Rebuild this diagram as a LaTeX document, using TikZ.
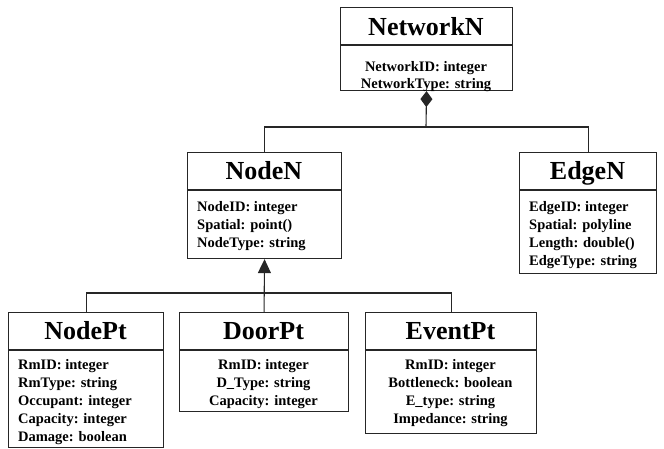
\documentclass[tikz,border=0pt]{standalone}
\usepackage{fontspec}
\setmainfont{Liberation Serif}
\usetikzlibrary{arrows.meta}
\tikzset{
  cls/.style={draw=black!85, line width=1.1pt, rectangle, anchor=north west, inner sep=0pt},
  divl/.style={draw=black!85, line width=1.1pt},
  ttl/.style={font=\fontsize{26}{26}\selectfont\bfseries, anchor=base, inner sep=0pt},
  attrl/.style={font=\fontsize{14.5}{18}\selectfont\bfseries, anchor=base west, inner sep=0pt},
  attrc/.style={font=\fontsize{14.5}{18}\selectfont\bfseries, anchor=base, inner sep=0pt},
  conn/.style={draw=black!85, line width=1.1pt},
}
\begin{document}
\begin{tikzpicture}[x=1pt,y=-1pt]
\useasboundingbox (0,0) rectangle (664,448);
% NetworkN
\node[cls, minimum width=172pt, minimum height=83pt] (nw) at (340,7) {};
\draw[divl] (nw.west |- 0,45) -- (nw.east |- 0,45);
\node[ttl] (nwT) at (426,35.5) {NetworkN};
\node[attrc] (nwA1) at (426,71) {NetworkID: integer};
\node[attrc] (nwA2) at (426,88) {NetworkType: string};
% NodeN
\node[cls, minimum width=154pt, minimum height=106pt] (nn) at (187,152) {};
\draw[divl] (nn.west |- 0,190) -- (nn.east |- 0,190);
\node[ttl] (nnT) at (264,179.5) {NodeN};
\node[attrl] (nnA1) at (197,211) {NodeID: integer};
\node[attrl] (nnA2) at (197,229) {Spatial: point()};
\node[attrl] (nnA3) at (197,247) {NodeType: string};
% EdgeN
\node[cls, minimum width=137pt, minimum height=121pt] (en) at (519,152) {};
\draw[divl] (en.west |- 0,190) -- (en.east |- 0,190);
\node[ttl] (enT) at (587.5,179.5) {EdgeN};
\node[attrl] (enA1) at (529,211) {EdgeID: integer};
\node[attrl] (enA2) at (529,229) {Spatial: polyline};
\node[attrl] (enA3) at (529,247) {Length: double()};
\node[attrl] (enA4) at (529,265) {EdgeType: string};
% NodePt
\node[cls, minimum width=155pt, minimum height=135pt] (np) at (8,312) {};
\draw[divl] (np.west |- 0,350) -- (np.east |- 0,350);
\node[ttl] (npT) at (85.5,339) {NodePt};
\node[attrl] (npA1) at (18,369) {RmID: integer};
\node[attrl] (npA2) at (18,387) {RmType: string};
\node[attrl] (npA3) at (18,405) {Occupant: integer};
\node[attrl] (npA4) at (18,423) {Capacity: integer};
\node[attrl] (npA5) at (18,441) {Damage: boolean};
% DoorPt
\node[cls, minimum width=169pt, minimum height=99pt] (dp) at (179,312) {};
\draw[divl] (dp.west |- 0,350) -- (dp.east |- 0,350);
\node[ttl] (dpT) at (263.5,339) {DoorPt};
\node[attrc] (dpA1) at (263.5,369) {RmID: integer};
\node[attrc] (dpA2) at (263.5,387) {D\_Type: string};
\node[attrc] (dpA3) at (263.5,405) {Capacity: integer};
% EventPt
\node[cls, minimum width=171pt, minimum height=121pt] (ep) at (365,312) {};
\draw[divl] (ep.west |- 0,350) -- (ep.east |- 0,350);
\node[ttl] (epT) at (450.5,339) {EventPt};
\node[attrc] (epA1) at (450.5,369) {RmID: integer};
\node[attrc] (epA2) at (450.5,387) {Bottleneck: boolean};
\node[attrc] (epA3) at (450.5,405) {E\_type: string};
\node[attrc] (epA4) at (450.5,423) {Impedance: string};
% connectors
\coordinate (j1) at (426,127);
\coordinate (j2) at (263.5,293);
\draw[conn, {Diamond[length=16pt,width=12pt]}-] (nw.south) -- (j1);
\draw[conn] (nn.north) |- (j1) -| (en.north);
\draw[conn, -{Triangle[length=14pt,width=13pt]}] (dp.north) -- (nn.south);
\draw[conn] (np.north) |- (j2) -| (ep.north);
\end{tikzpicture}
\end{document}
